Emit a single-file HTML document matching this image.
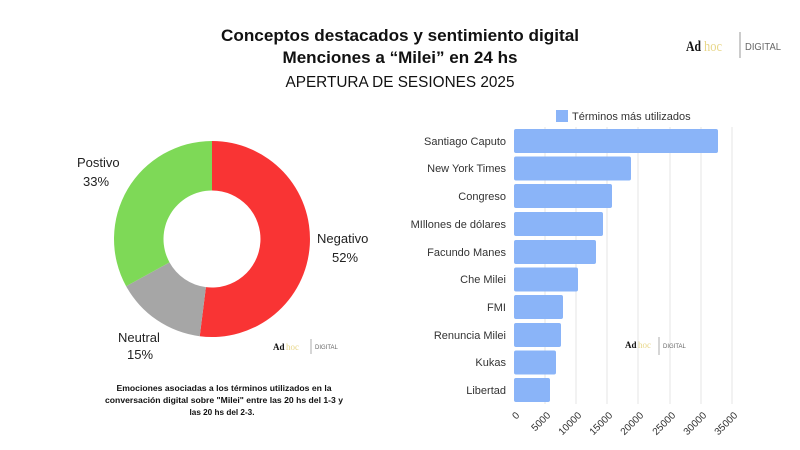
<!DOCTYPE html>
<html><head><meta charset="utf-8"><style>
html,body{margin:0;padding:0;background:#fff;}
svg{display:block;font-family:"Liberation Sans",sans-serif;}
</style></head><body>
<svg width="800" height="450" viewBox="0 0 800 450" xmlns="http://www.w3.org/2000/svg">
<rect width="800" height="450" fill="#fff"/>
<!-- Titles -->
<text x="400" y="41" text-anchor="middle" font-size="16.5" font-weight="bold" fill="#111" textLength="358" lengthAdjust="spacingAndGlyphs">Conceptos destacados y sentimiento digital</text>
<text x="400" y="63" text-anchor="middle" font-size="16.5" font-weight="bold" fill="#111" textLength="235" lengthAdjust="spacingAndGlyphs">Menciones a “Milei” en 24 hs</text>
<text x="400" y="87" text-anchor="middle" font-size="16" fill="#111" textLength="229" lengthAdjust="spacingAndGlyphs">APERTURA DE SESIONES 2025</text>
<!-- top-right logo -->
<text x="686" y="51" font-family="Liberation Serif,serif" font-size="15" font-weight="bold" fill="#111" textLength="15" lengthAdjust="spacingAndGlyphs">Ad</text>
<text x="704" y="51" font-family="Liberation Serif,serif" font-size="15" fill="#e8d78a" textLength="18" lengthAdjust="spacingAndGlyphs">hoc</text>
<line x1="740" y1="32" x2="740" y2="58" stroke="#999" stroke-width="1"/>
<text x="745" y="50" font-size="10" fill="#666" textLength="36" lengthAdjust="spacingAndGlyphs">DIGITAL</text>

<!-- Donut -->
<g transform="translate(212,239)">
<path d="M0,-98 A98,98 0 1,1 -12.28,97.23 L-6.08,48.12 A48.5,48.5 0 1,0 0,-48.5 Z" fill="#f93434"/>
<path d="M-12.28,97.23 A98,98 0 0,1 -85.87,47.22 L-42.5,23.37 A48.5,48.5 0 0,0 -6.08,48.12 Z" fill="#a6a6a6"/>
<path d="M-85.87,47.22 A98,98 0 0,1 0,-98 L0,-48.5 A48.5,48.5 0 0,0 -42.5,23.37 Z" fill="#7ed957"/>
</g>
<text x="77" y="167" font-size="13" fill="#222">Postivo</text>
<text x="83" y="186" font-size="13" fill="#222">33%</text>
<text x="317" y="243" font-size="13" fill="#222">Negativo</text>
<text x="332" y="262" font-size="13" fill="#222">52%</text>
<text x="118" y="342" font-size="13" fill="#222">Neutral</text>
<text x="127" y="359" font-size="13" fill="#222">15%</text>
<!-- small logo left -->
<text x="273" y="350" font-family="Liberation Serif,serif" font-size="9" font-weight="bold" fill="#111">Ad</text>
<text x="286" y="350" font-family="Liberation Serif,serif" font-size="9" fill="#e8d78a">hoc</text>
<line x1="311" y1="339" x2="311" y2="354" stroke="#999" stroke-width="0.8"/>
<text x="315" y="349" font-size="6" fill="#666">DIGITAL</text>
<!-- caption -->
<text x="224" y="391" text-anchor="middle" font-size="8.6" font-weight="bold" fill="#111" textLength="215" lengthAdjust="spacingAndGlyphs">Emociones asociadas a los términos utilizados en la</text>
<text x="224" y="403" text-anchor="middle" font-size="8.6" font-weight="bold" fill="#111" textLength="238" lengthAdjust="spacingAndGlyphs">conversación digital sobre "Milei" entre las 20 hs del 1-3 y</text>
<text x="222" y="415" text-anchor="middle" font-size="8.6" font-weight="bold" fill="#111" textLength="65" lengthAdjust="spacingAndGlyphs">las 20 hs del 2-3.</text>

<!-- Bar chart -->
<rect x="556" y="110" width="12" height="12" fill="#8ab4f8"/>
<text x="572" y="120" font-size="11" fill="#333">Términos más utilizados</text>
<g stroke="#e6e6e6" stroke-width="1">
<line x1="545" y1="127" x2="545" y2="404"/>
<line x1="576" y1="127" x2="576" y2="404"/>
<line x1="607" y1="127" x2="607" y2="404"/>
<line x1="638" y1="127" x2="638" y2="404"/>
<line x1="670" y1="127" x2="670" y2="404"/>
<line x1="701" y1="127" x2="701" y2="404"/>
<line x1="732" y1="127" x2="732" y2="404"/>
</g>
<g fill="#8ab4f8">
<rect x="514" y="129" width="204" height="24" rx="2"/>
<rect x="514" y="156.5" width="117" height="24" rx="2"/>
<rect x="514" y="184" width="98" height="24" rx="2"/>
<rect x="514" y="212" width="89" height="24" rx="2"/>
<rect x="514" y="240" width="82" height="24" rx="2"/>
<rect x="514" y="267.5" width="64" height="24" rx="2"/>
<rect x="514" y="295" width="49" height="24" rx="2"/>
<rect x="514" y="323" width="47" height="24" rx="2"/>
<rect x="514" y="350.5" width="42" height="24" rx="2"/>
<rect x="514" y="378" width="36" height="24" rx="2"/>
</g>
<g font-size="11" fill="#333" text-anchor="end">
<text x="506" y="145">Santiago Caputo</text>
<text x="506" y="172">New York Times</text>
<text x="506" y="200">Congreso</text>
<text x="506" y="228">MIllones de dólares</text>
<text x="506" y="256">Facundo Manes</text>
<text x="506" y="283">Che Milei</text>
<text x="506" y="311">FMI</text>
<text x="506" y="339">Renuncia Milei</text>
<text x="506" y="366">Kukas</text>
<text x="506" y="394">Libertad</text>
</g>
<g font-size="10" fill="#333" text-anchor="end">
<text transform="translate(520,416) rotate(-45)">0</text>
<text transform="translate(551,416) rotate(-45)">5000</text>
<text transform="translate(582,416) rotate(-45)">10000</text>
<text transform="translate(613,416) rotate(-45)">15000</text>
<text transform="translate(644,416) rotate(-45)">20000</text>
<text transform="translate(676,416) rotate(-45)">25000</text>
<text transform="translate(707,416) rotate(-45)">30000</text>
<text transform="translate(738,416) rotate(-45)">35000</text>
</g>
<!-- small logo in bar chart -->
<text x="625" y="348" font-family="Liberation Serif,serif" font-size="9" font-weight="bold" fill="#111">Ad</text>
<text x="638" y="348" font-family="Liberation Serif,serif" font-size="9" fill="#e8d78a">hoc</text>
<line x1="659" y1="337" x2="659" y2="355" stroke="#999" stroke-width="0.8"/>
<text x="663" y="348" font-size="6" fill="#666">DIGITAL</text>
</svg>
</body></html>
